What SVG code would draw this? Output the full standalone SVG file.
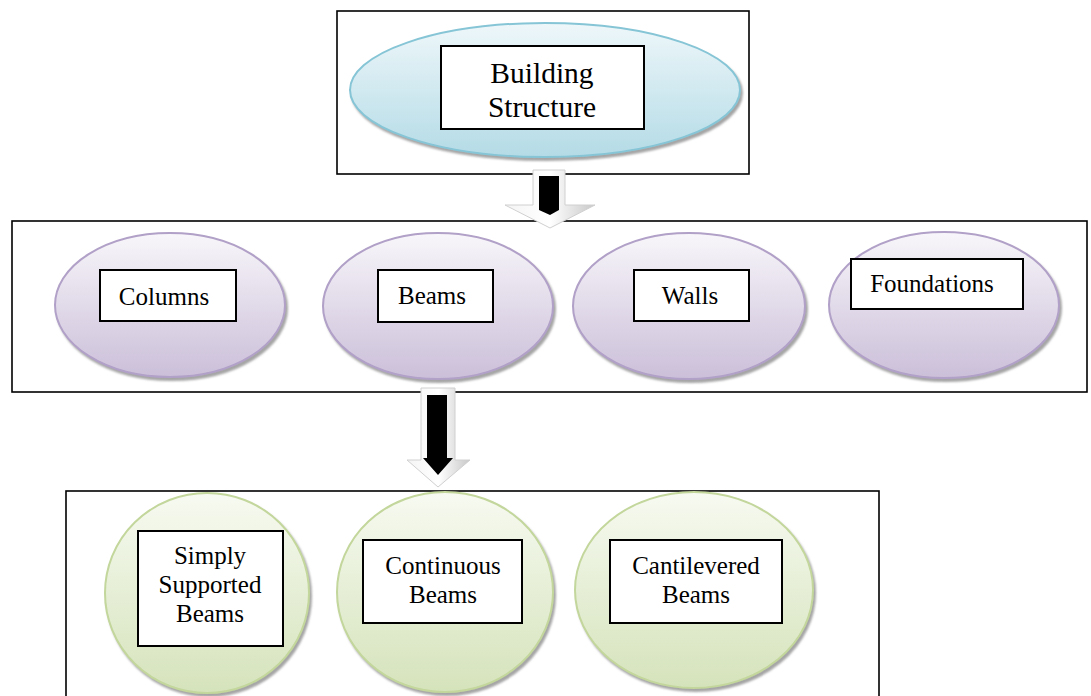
<svg xmlns="http://www.w3.org/2000/svg" width="1091" height="696" viewBox="0 0 1091 696">
<defs>
<linearGradient id="gBlue" x1="0" y1="0" x2="0" y2="1">
<stop offset="0" stop-color="#eef7fa"/><stop offset="1" stop-color="#b4dbe6"/>
</linearGradient>
<linearGradient id="gPurple" x1="0" y1="0" x2="0" y2="1">
<stop offset="0" stop-color="#f8f6fa"/><stop offset="1" stop-color="#cbbfd9"/>
</linearGradient>
<linearGradient id="gGreen" x1="0" y1="0" x2="0" y2="1">
<stop offset="0" stop-color="#f7faf1"/><stop offset="1" stop-color="#d5e3bb"/>
</linearGradient>
<linearGradient id="gArrow" x1="0" y1="0" x2="1" y2="0">
<stop offset="0" stop-color="#f4f4f4"/><stop offset="0.5" stop-color="#ffffff"/><stop offset="1" stop-color="#c8c8c8"/>
</linearGradient>
<filter id="shadow" x="-10%" y="-10%" width="125%" height="130%">
<feDropShadow dx="2" dy="3" stdDeviation="1" flood-color="#7f7f7f" flood-opacity="0.7"/>
</filter>
</defs>
<style>
.box{fill:#ffffff;stroke:#000000;stroke-width:1.6}
.lbl{fill:#ffffff;stroke:#000000;stroke-width:2}
.eb{fill:url(#gBlue);stroke:#86c5d6;stroke-width:2;filter:url(#shadow)}
.ep{fill:url(#gPurple);stroke:#b1a0c7;stroke-width:2;filter:url(#shadow)}
.eg{fill:url(#gGreen);stroke:#c3d69b;stroke-width:2;filter:url(#shadow)}
text{font-family:"Liberation Serif","Times New Roman",serif;fill:#000000;text-anchor:middle}
.t1{font-size:29.5px}
.t2{font-size:25px}
.outer{fill:url(#gArrow);stroke:#d0d0d0;stroke-width:1}
.inner{fill:#000000}
</style>

<g id="level1">
<rect class="box" x="337" y="11" width="412" height="163"/>
</g>
<g id="level2">
<rect class="box" x="12" y="221" width="1075" height="171"/>
</g>
<g id="level3">
<rect class="box" x="66" y="491" width="813" height="215"/>
</g>

<g id="building-structure">
<ellipse class="eb" cx="545" cy="90" rx="195" ry="67"/>
<rect class="lbl" x="441" y="46" width="203" height="83"/>
<text class="t1" x="542" y="83">Building</text>
<text class="t1" x="542" y="117">Structure</text>
</g>

<g id="columns">
<ellipse class="ep" cx="170" cy="305" rx="115" ry="72"/>
<rect class="lbl" x="100" y="270" width="136" height="51"/>
<text class="t2" x="164" y="305">Columns</text>
</g>
<g id="beams">
<ellipse class="ep" cx="438" cy="306" rx="115" ry="73"/>
<rect class="lbl" x="378" y="270" width="115" height="52"/>
<text class="t2" x="432" y="304">Beams</text>
</g>
<g id="walls">
<ellipse class="ep" cx="689" cy="306" rx="116" ry="73"/>
<rect class="lbl" x="634" y="270" width="115" height="51"/>
<text class="t2" x="690" y="304">Walls</text>
</g>
<g id="foundations">
<ellipse class="ep" cx="944" cy="305" rx="115" ry="73"/>
<rect class="lbl" x="851" y="259" width="172" height="50"/>
<text class="t2" x="932" y="292">Foundations</text>
</g>

<g id="simply-supported-beams">
<ellipse class="eg" cx="207" cy="593" rx="102" ry="100"/>
<rect class="lbl" x="138" y="531" width="145" height="115"/>
<text class="t2" x="210" y="564">Simply</text>
<text class="t2" x="210" y="593">Supported</text>
<text class="t2" x="210" y="622">Beams</text>
</g>
<g id="continuous-beams">
<ellipse class="eg" cx="445" cy="592" rx="108" ry="100"/>
<rect class="lbl" x="363" y="540" width="159" height="83"/>
<text class="t2" x="443" y="574">Continuous</text>
<text class="t2" x="443" y="603">Beams</text>
</g>
<g id="cantilevered-beams">
<ellipse class="eg" cx="694" cy="590" rx="119" ry="98"/>
<rect class="lbl" x="610" y="540" width="172" height="83"/>
<text class="t2" x="696" y="574">Cantilevered</text>
<text class="t2" x="696" y="603">Beams</text>
</g>

<g id="connectors">
<g id="arrow1">
<polygon class="outer" points="533,170 565,170 565,205 595,205 550,228 505,205 533,205"/>
<polygon class="inner" points="539,176 559,176 559,210 550,215 539,210"/>
</g>
<g id="arrow2">
<polygon class="outer" points="421,388 455,388 455,460 470,460 438,487 407,460 421,460"/>
<polygon class="inner" points="427,395 447,395 447,458 453,458 438,475 423,458 427,458"/>
</g>
</g>
</svg>
